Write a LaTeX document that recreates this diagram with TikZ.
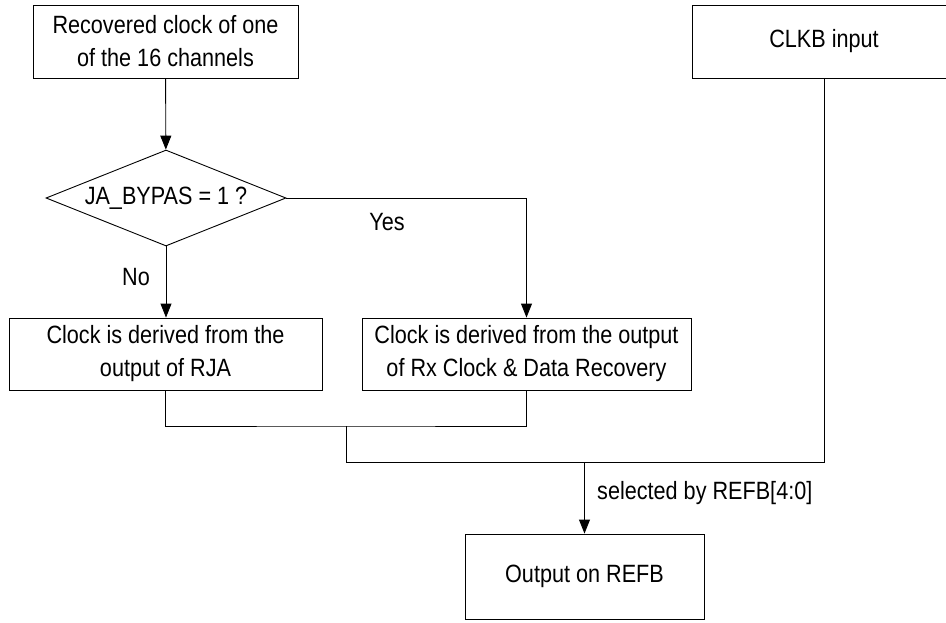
\documentclass[tikz,border=0pt]{standalone}
\usepackage{fontspec}
\setmainfont{Liberation Sans}[FakeStretch=0.865]
\usetikzlibrary{shapes.geometric,arrows.meta}
\begin{document}
\begin{tikzpicture}[x=1pt,y=-1pt,
  every node/.style={font=\fontsize{25}{33}\selectfont},
  box/.style={draw,line width=0.9pt,inner sep=0pt,align=center},
  dia/.style={draw,line width=0.9pt,diamond,shape aspect=2.5,inner sep=0pt,minimum width=240pt,minimum height=96pt},
  conn/.style={line width=0.9pt},
  arr/.style={conn,-{Triangle[width=11pt,length=14pt]}},
  lbl/.style={inner sep=0pt}]
\useasboundingbox (0,0) rectangle (946,622);
\node[box,minimum width=265pt,minimum height=73pt] (n1) at (165.5,41.5) {Recovered clock of one\\of the 16 channels};
\node[box,minimum width=264pt,minimum height=73pt] (clkb) at (824,41.5) {CLKB input};
\node[dia] (dec) at (166,198) {JA\_BYPAS = 1 ?};
\node[box,minimum width=313pt,minimum height=72pt] (rja) at (165.5,354) {Clock is derived from the\\output of RJA};
\node[box,minimum width=329pt,minimum height=72pt] (cdr) at (526.5,354) {Clock is derived from the output\\of Rx Clock \& Data Recovery};
\node[box,minimum width=239pt,minimum height=85pt] (out) at (584.5,576.5) {Output on REFB};
\coordinate (j1) at (346,426);
\coordinate (j2) at (346,462);
\coordinate (j3) at (584.5,462);
\draw[arr] (n1) -- (dec);
\draw[arr] (dec.south) -- (dec.south |- rja.north);
\draw[arr] (dec.east) -| (cdr.north);
\draw[conn] (rja.south) |- (j1) -| (cdr.south);
\draw[conn] (j1) -- (j2) -| (clkb.south);
\draw[arr] (j3) -- (out.north);
\node[lbl] (yes) at (387,222) {Yes};
\node[lbl] (no) at (136,277) {No};
\node[lbl,anchor=west] (sel) at (597,493) {selected by REFB[4:0]};
\end{tikzpicture}
\end{document}
